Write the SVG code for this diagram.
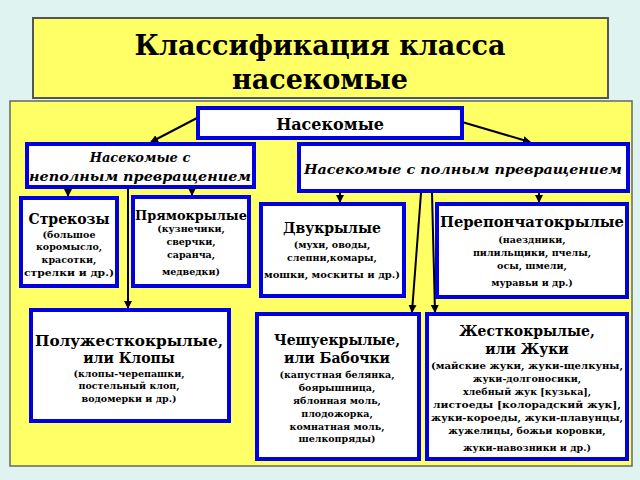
<svg xmlns="http://www.w3.org/2000/svg" width="640" height="480" viewBox="0 0 640 480">
<defs>
<marker id="a" markerWidth="8" markerHeight="8" refX="7" refY="4" orient="auto" markerUnits="userSpaceOnUse"><path d="M0,0 L8,4 L0,8 z" fill="#000"/></marker>
<style>
.b{fill:#fff;stroke:#0000e0;stroke-width:4}
text{font-family:"DejaVu Serif",serif;font-weight:bold;text-anchor:middle;fill:#000}
.h{font-size:14px}
.s{font-size:9.5px}
.i{font-style:italic;font-size:13px}
.c line{stroke:#000;stroke-width:2;marker-end:url(#a)}
</style>
</defs>
<rect width="640" height="480" fill="#dff4f1"/>
<g id="title"><rect x="33" y="18" width="575" height="80" fill="#ffff66" stroke="#555" stroke-width="2"/>
<text x="320" y="55" font-size="27">Классификация класса</text><text x="320" y="89" font-size="27">насекомые</text></g>
<rect x="10" y="101" width="622" height="365" fill="#ffff66" stroke="#666" stroke-width="1.5"/>
<g class="c">
<line x1="197" y1="118" x2="151" y2="142"/>
<line x1="462" y1="122" x2="530" y2="142"/>
<line x1="68" y1="188" x2="68" y2="196"/>
<line x1="192" y1="188" x2="192" y2="195"/>
<line x1="128" y1="188" x2="128" y2="308"/>
<line x1="340" y1="193" x2="340" y2="202"/>
<line x1="539" y1="193" x2="539" y2="202"/>
<line x1="421" y1="193" x2="412" y2="312"/>
<line x1="432" y1="193" x2="435" y2="312"/>
</g>
<g id="n0"><rect class="b" x="198" y="108" width="264" height="30"/><text x="330" y="130" font-size="16">Насекомые</text></g>
<g id="n1"><rect class="b" x="27" y="144" width="227" height="43"/><text class="i" x="140" y="162">Насекомые с</text><text class="i" x="140" y="181" textLength="222" lengthAdjust="spacingAndGlyphs">неполным превращением</text></g>
<g id="n2"><rect class="b" x="299" y="144" width="329" height="47"/><text class="i" x="463" y="174" textLength="318" lengthAdjust="spacingAndGlyphs">Насекомые с полным превращением</text></g>
<g id="n3"><rect class="b" x="21" y="198" width="96" height="88"/><text class="h" x="69" y="224">Стрекозы</text><text class="s" x="69" y="238">(большое</text><text class="s" x="69" y="250">коромысло,</text><text class="s" x="69" y="263">красотки,</text><text class="s" x="69" y="276" textLength="90" lengthAdjust="spacingAndGlyphs">стрелки и др.)</text></g>
<g id="n4"><rect class="b" x="133" y="197" width="116" height="89"/><text x="191" y="220" font-size="13" textLength="112" lengthAdjust="spacingAndGlyphs">Прямокрылые</text><text class="s" x="191" y="232">(кузнечики,</text><text class="s" x="191" y="245">сверчки,</text><text class="s" x="191" y="258">саранча,</text><text class="s" x="191" y="275">медведки)</text></g>
<g id="n5"><rect class="b" x="261" y="204" width="143" height="92"/><text class="h" x="332" y="233">Двукрылые</text><text class="s" x="332" y="248">(мухи, оводы,</text><text class="s" x="332" y="261">слепни,комары,</text><text class="s" x="332" y="278" textLength="136" lengthAdjust="spacingAndGlyphs">мошки, москиты и др.)</text></g>
<g id="n6"><rect class="b" x="437" y="204" width="190" height="93"/><text class="h" x="532" y="227" textLength="184" lengthAdjust="spacingAndGlyphs">Перепончатокрылые</text><text class="s" x="532" y="243">(наездники,</text><text class="s" x="532" y="256">пилильщики, пчелы,</text><text class="s" x="532" y="269">осы, шмели,</text><text class="s" x="532" y="286">муравьи и др.)</text></g>
<g id="n7"><rect class="b" x="31" y="310" width="198" height="111"/><text class="h" x="129" y="346" textLength="188" lengthAdjust="spacingAndGlyphs">Полужесткокрылые,</text><text class="h" x="129" y="363">или Клопы</text><text class="s" x="129" y="377">(клопы-черепашки,</text><text class="s" x="129" y="389">постельный клоп,</text><text class="s" x="129" y="402">водомерки и др.)</text></g>
<g id="n8"><rect class="b" x="257" y="314" width="162" height="145"/><text class="h" x="337" y="345">Чешуекрылые,</text><text class="h" x="337" y="363">или Бабочки</text><text class="s" x="337" y="378">(капустная белянка,</text><text class="s" x="337" y="391">боярышница,</text><text class="s" x="337" y="404">яблонная моль,</text><text class="s" x="337" y="417">плодожорка,</text><text class="s" x="337" y="430">комнатная моль,</text><text class="s" x="337" y="442">шелкопряды)</text></g>
<g id="n9"><rect class="b" x="427" y="314" width="200" height="145"/><text class="h" x="527" y="336">Жесткокрылые,</text><text class="h" x="527" y="354">или Жуки</text><text class="s" x="527" y="369" textLength="192" lengthAdjust="spacingAndGlyphs">(майские жуки, жуки-щелкуны,</text><text class="s" x="527" y="382">жуки-долгоносики,</text><text class="s" x="527" y="395">хлебный жук [кузька],</text><text class="s" x="527" y="408" textLength="188" lengthAdjust="spacingAndGlyphs">листоеды [колорадский жук],</text><text class="s" x="527" y="421" textLength="192" lengthAdjust="spacingAndGlyphs">жуки-короеды, жуки-плавунцы,</text><text class="s" x="527" y="434">жужелицы, божьи коровки,</text><text class="s" x="527" y="451">жуки-навозники и др.)</text></g>
</svg>
